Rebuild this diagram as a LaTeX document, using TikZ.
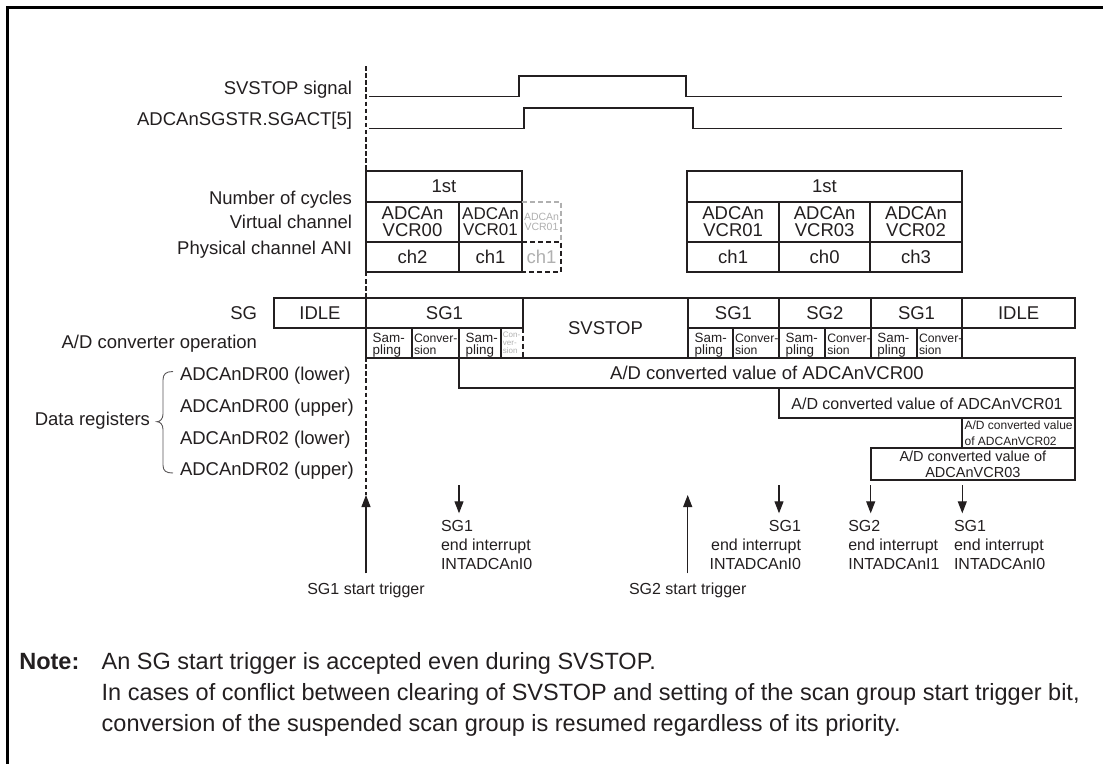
\documentclass[tikz,border=0pt]{standalone}
\usepackage{fontspec}
\setmainfont{Liberation Sans}
\usetikzlibrary{arrows.meta}
\definecolor{ink}{HTML}{231F20}
\definecolor{faint}{HTML}{B0B0B0}
\newcommand\fsz[2]{\fontsize{#1}{#2}\selectfont}
\newcommand\mkcell[7][]{%
  \pgfmathsetmacro\mkcw{#5-#3}%
  \pgfmathsetmacro\mkch{#6-#4}%
  \node[cell,minimum width=\mkcw pt,minimum height=\mkch pt,#1] (#2) at ({(#3+#5)/2},{(#4+#6)/2}) {#7};%
}
\begin{document}
\begin{tikzpicture}[x=1pt,y=-1pt,
  cell/.style={draw=ink, line width=1.9pt, inner sep=0pt, outer sep=0pt, text=ink, align=center, font=\fsz{18.5}{16.7}},
  lbl/.style={inner sep=0pt, outer sep=0pt, text=ink, font=\fsz{18.5}{18.5}},
  lblsm/.style={inner sep=0pt, outer sep=0pt, text=ink, font=\fsz{16}{19}},
  optxt/.style={inner sep=0pt, outer sep=0pt, text=ink, align=left, font=\fsz{13.4}{11.7}},
  cvtxt/.style={inner sep=0pt, outer sep=0pt, text=ink, align=left, font=\fsz{12.2}{11.7}},
  notetxt/.style={inner sep=0pt, outer sep=0pt, text=ink, font=\fsz{23.5}{31}},
  wave/.style={draw=ink, line width=1.6pt},
  guide/.style={draw=ink, line width=1.1pt, dash pattern=on 4.5pt off 2.6pt},
  arr/.style={draw=ink, line width=1.1pt, -{Triangle[length=12pt,width=9pt]}},
  boxln/.style={draw=ink, line width=1.9pt},
  dashblk/.style={draw=ink, line width=1.9pt, dash pattern=on 5pt off 3pt},
  dashgray/.style={draw=faint, line width=1.9pt, dash pattern=on 5pt off 3pt},
  framelin/.style={draw=black, line width=2.4pt, line join=miter}
]
\useasboundingbox (0,0) rectangle (1103,763);
\fill[white] (0,0) rectangle (1103,763);

% frame
\draw[framelin] (1104,7.3) -- (7.3,7.3) -- (7.3,764);

% coordinates for arrows
\coordinate (gtop) at (366,66);
\coordinate (t1s) at (366,573.3);   \coordinate (t1e) at (366,495);
\coordinate (t2s) at (687.7,573.3); \coordinate (t2e) at (687.7,495);
\coordinate (i1s) at (459,485);     \coordinate (i1e) at (459,513.3);
\coordinate (i2s) at (779,485);     \coordinate (i2e) at (779,513.3);
\coordinate (i3s) at (870.7,485);   \coordinate (i3e) at (870.7,513.3);
\coordinate (i4s) at (962.3,485);   \coordinate (i4e) at (962.3,513.3);

% dashed guide
\draw[guide] (gtop) -- (t1e);

% waveforms
\draw[wave] (369,96.3) -- (519,96.3) -- (519,76) -- (686,76) -- (686,96.3) -- (1062,96.3);
\draw[wave] (369,128.3) -- (524,128.3) -- (524,107.7) -- (693,107.7) -- (693,128.3) -- (1062,128.3);

% left labels
\node[lbl,anchor=base east] (lsv) at (352,94.9) {SVSTOP signal};
\node[lbl,anchor=base east] (lsg) at (352,125.9) {ADCAnSGSTR.SGACT[5]};
\node[lbl,anchor=base east] (lnc) at (352,204.6) {Number of cycles};
\node[lbl,anchor=base east] (lvc) at (352,228.3) {Virtual channel};
\node[lbl,anchor=base east] (lpc) at (352,254.9) {Physical channel ANI};
\node[lbl,anchor=base east] (lsgr) at (257,319.3) {SG};
\node[lbl,anchor=base east] (lad) at (257,348.3) {A/D converter operation};
\node[lbl,anchor=base east] (ldr) at (150,425.9) {Data registers};
\node[lbl,anchor=base west] (lr1) at (180,380.6) {ADCAnDR00 (lower)};
\node[lbl,anchor=base west] (lr2) at (180,412.6) {ADCAnDR00 (upper)};
\node[lbl,anchor=base west] (lr3) at (180,444.3) {ADCAnDR02 (lower)};
\node[lbl,anchor=base west] (lr4) at (180,475.9) {ADCAnDR02 (upper)};

% brace
\draw[draw=ink!75, line width=0.9pt] (173,371.5) .. controls (166,371.5) and (163,374) .. (163,380) -- (163,414)
  .. controls (163,419) and (160,421.7) .. (157,421.7)
  .. controls (160,421.7) and (163,424.4) .. (163,429.4) -- (163,465)
  .. controls (163,471) and (166,473) .. (173,473);

% top table, group 1
\mkcell{cy1}{366}{171}{522}{201.7}{1st}
\mkcell{vc00}{366}{201.7}{459}{241.7}{ADCAn\\VCR00}
\mkcell[font=\fsz{17}{16.7}]{vc01}{459}{201.7}{522}{241.7}{ADCAn\\VCR01}
\mkcell{pch2}{366}{241.7}{459}{271.7}{ch2}
\mkcell{pch1}{459}{241.7}{522}{271.7}{ch1}
\mkcell[draw=none,text=faint,font=\fsz{10.5}{10}]{vcg}{522}{201.7}{561}{241.7}{ADCAn\\VCR01}
\mkcell[draw=none,text=faint]{pcg}{522}{241.7}{561}{271.7}{ch1}
\draw[dashgray] (vcg.north west) -- (vcg.north east) -- (vcg.south east);
\draw[dashblk] (pcg.north west) -- (pcg.north east) -- (pcg.south east) -- (pcg.south west);

% top table, group 2
\mkcell{cy2}{687.3}{171}{961.7}{201.7}{1st}
\mkcell{vb01}{687.3}{201.7}{779}{241.7}{ADCAn\\VCR01}
\mkcell{vb03}{779}{201.7}{870.3}{241.7}{ADCAn\\VCR03}
\mkcell{vb02}{870.3}{201.7}{961.7}{241.7}{ADCAn\\VCR02}
\mkcell{pb1}{687.3}{241.7}{779}{271.7}{ch1}
\mkcell{pb0}{779}{241.7}{870.3}{271.7}{ch0}
\mkcell{pb3}{870.3}{241.7}{961.7}{271.7}{ch3}

% SG row
\mkcell{idle1}{274}{298.3}{366}{327.7}{IDLE}
\mkcell{sg1a}{366}{298.3}{523}{327.7}{SG1}
\mkcell{sg1b}{688}{298.3}{779}{327.7}{SG1}
\mkcell{sg2}{779}{298.3}{870.7}{327.7}{SG2}
\mkcell{sg1c}{870.7}{298.3}{962.3}{327.7}{SG1}
\mkcell{idle2}{962.3}{298.3}{1075}{327.7}{IDLE}
\node[lbl] (svs) at (605.5,328.3) {SVSTOP};
\draw[boxln] (sg1a.north east) -- (sg1b.north west);

% register rows (drawn before ops so ops borders sit on top)
\mkcell{rg0}{459}{358.3}{1075}{388.3}{A/D converted value of ADCAnVCR00}
\mkcell[font=\fsz{16}{16}]{rg1}{779}{388.3}{1075}{418.3}{A/D converted value of ADCAnVCR01}
\mkcell[font=\fsz{12}{15.4},align=left]{rg2}{962.3}{418.3}{1075}{448.3}{A/D converted value\\of ADCAnVCR02}
\mkcell[font=\fsz{14.5}{15.4}]{rg3}{870.7}{448.3}{1075}{480}{A/D converted value of\\ADCAnVCR03}

% A/D converter operation row
\mkcell{op1}{366}{327.7}{411.7}{358.3}{}
\mkcell{op2}{411.7}{327.7}{459}{358.3}{}
\mkcell{op3}{459}{327.7}{500.7}{358.3}{}
\mkcell[draw=none]{op4}{500.7}{327.7}{523}{358.3}{}
\draw[dashblk] (op4.north east) -- (op4.south east);
\mkcell{op5}{688}{327.7}{732.7}{358.3}{}
\mkcell{op6}{732.7}{327.7}{779}{358.3}{}
\mkcell{op7}{779}{327.7}{825}{358.3}{}
\mkcell{op8}{825}{327.7}{870.7}{358.3}{}
\mkcell{op9}{870.7}{327.7}{916.7}{358.3}{}
\mkcell{op10}{916.7}{327.7}{962.3}{358.3}{}

\node[optxt,anchor=north west] (op1t) at (372.7,333.3) {Sam-\\pling};
\node[cvtxt,anchor=north west] (op2t) at (414,334.2) {Conver-\\sion};
\node[optxt,anchor=north west] (op3t) at (465.7,333.3) {Sam-\\pling};
\node[inner sep=0pt,text=faint,align=left,font=\fsz{8}{7.7},anchor=north west] (op4t) at (502.7,332.2) {Con-\\ver-\\sion};
\node[optxt,anchor=north west] (op5t) at (694.7,333.3) {Sam-\\pling};
\node[cvtxt,anchor=north west] (op6t) at (735,334.2) {Conver-\\sion};
\node[optxt,anchor=north west] (op7t) at (785.7,333.3) {Sam-\\pling};
\node[cvtxt,anchor=north west] (op8t) at (827.3,334.2) {Conver-\\sion};
\node[optxt,anchor=north west] (op9t) at (877.4,333.3) {Sam-\\pling};
\node[cvtxt,anchor=north west] (op10t) at (919,334.2) {Conver-\\sion};

% arrows
\draw[arr] (t1s) -- (t1e);
\draw[arr] (t2s) -- (t2e);
\draw[arr] (i1s) -- (i1e);
\draw[arr] (i2s) -- (i2e);
\draw[arr] (i3s) -- (i3e);
\draw[arr] (i4s) -- (i4e);

\node[lblsm,anchor=base] (trg1) at (366,594) {SG1 start trigger};
\node[lblsm,anchor=base] (trg2) at (687.7,594) {SG2 start trigger};
\node[lblsm,align=left,anchor=north west] (int1) at (441,519.9) {SG1\\end interrupt\\INTADCAnI0};
\node[lblsm,align=right,anchor=north east] (int2) at (801,519.9) {SG1\\end interrupt\\INTADCAnI0};
\node[lblsm,align=left,anchor=north west] (int3) at (848.3,519.9) {SG2\\end interrupt\\INTADCAnI1};
\node[lblsm,align=left,anchor=north west] (int4) at (954,519.9) {SG1\\end interrupt\\INTADCAnI0};

% note
\node[notetxt,anchor=base west] (nhd) at (19.3,669.5) {\bfseries Note:};
\node[notetxt,anchor=base west] (n1) at (101.7,669.5) {An SG start trigger is accepted even during SVSTOP.};
\node[notetxt,anchor=base west] (n2) at (101.7,700.7) {In cases of conflict between clearing of SVSTOP and setting of the scan group start trigger bit,};
\node[notetxt,anchor=base west] (n3) at (101.7,731.9) {conversion of the suspended scan group is resumed regardless of its priority.};
\end{tikzpicture}
\end{document}
